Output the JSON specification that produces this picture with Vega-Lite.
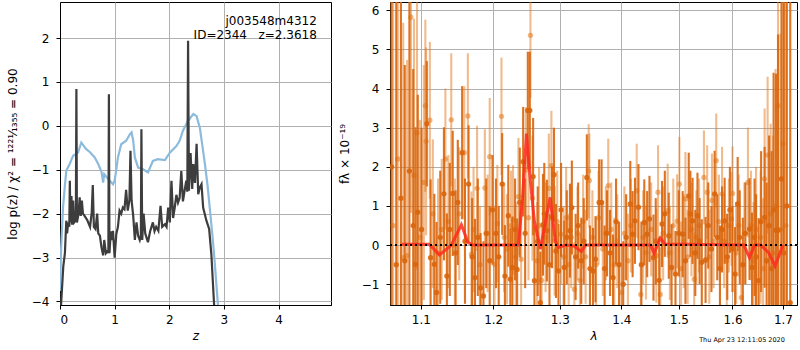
{
  "$schema": "https://vega.github.io/schema/vega-lite/v6.json",
  "padding": {"left": 5, "top": 1, "right": 0, "bottom": 0},
  "background": "white",
  "config": {
    "font": "DejaVu Sans",
    "view": {"stroke": "black", "strokeWidth": 1},
    "axis": {
      "grid": true, "gridColor": "#b0b0b0", "gridWidth": 1,
      "domainColor": "black", "tickColor": "black", "tickSize": 4,
      "labelFont": "DejaVu Sans", "labelFontSize": 12, "labelColor": "black", "labelPadding": 6,
      "titleFont": "DejaVu Sans", "titleFontSize": 12, "titleFontWeight": "normal", "titleColor": "black"
    }
  },
  "spacing": 5,
  "datasets": {
    "pz": [
      {"curve": "smooth", "z": 0.0, "logp": -3.76}, {"curve": "smooth", "z": 0.02, "logp": -2.8}, {"curve": "smooth", "z": 0.055, "logp": -1.87}, {"curve": "smooth", "z": 0.09, "logp": -1.35}, {"curve": "smooth", "z": 0.116, "logp": -1.02}, {"curve": "smooth", "z": 0.177, "logp": -0.87}, {"curve": "smooth", "z": 0.24, "logp": -0.68}, {"curve": "smooth", "z": 0.33, "logp": -0.61}, {"curve": "smooth", "z": 0.39, "logp": -0.38}, {"curve": "smooth", "z": 0.48, "logp": -0.53}, {"curve": "smooth", "z": 0.55, "logp": -0.6}, {"curve": "smooth", "z": 0.635, "logp": -0.72}, {"curve": "smooth", "z": 0.70, "logp": -0.87}, {"curve": "smooth", "z": 0.76, "logp": -1.05}, {"curve": "smooth", "z": 0.79, "logp": -1.29}, {"curve": "smooth", "z": 0.81, "logp": -1.1}, {"curve": "smooth", "z": 0.88, "logp": -1.21}, {"curve": "smooth", "z": 0.97, "logp": -1.33}, {"curve": "smooth", "z": 1.0, "logp": -1.25}, {"curve": "smooth", "z": 1.03, "logp": -1.0}, {"curve": "smooth", "z": 1.06, "logp": -0.72}, {"curve": "smooth", "z": 1.12, "logp": -0.42}, {"curve": "smooth", "z": 1.21, "logp": -0.34}, {"curve": "smooth", "z": 1.28, "logp": -0.19}, {"curve": "smooth", "z": 1.31, "logp": -0.15}, {"curve": "smooth", "z": 1.34, "logp": -0.34}, {"curve": "smooth", "z": 1.37, "logp": -0.72}, {"curve": "smooth", "z": 1.43, "logp": -0.95}, {"curve": "smooth", "z": 1.52, "logp": -0.99}, {"curve": "smooth", "z": 1.61, "logp": -1.06}, {"curve": "smooth", "z": 1.70, "logp": -0.8}, {"curve": "smooth", "z": 1.79, "logp": -0.76}, {"curve": "smooth", "z": 1.92, "logp": -0.78}, {"curve": "smooth", "z": 2.01, "logp": -0.61}, {"curve": "smooth", "z": 2.13, "logp": -0.46}, {"curve": "smooth", "z": 2.19, "logp": -0.34}, {"curve": "smooth", "z": 2.25, "logp": -0.11}, {"curve": "smooth", "z": 2.34, "logp": 0.11}, {"curve": "smooth", "z": 2.44, "logp": 0.27}, {"curve": "smooth", "z": 2.50, "logp": 0.22}, {"curve": "smooth", "z": 2.56, "logp": -0.05}, {"curve": "smooth", "z": 2.60, "logp": -0.4}, {"curve": "smooth", "z": 2.65, "logp": -0.85}, {"curve": "smooth", "z": 2.70, "logp": -1.35}, {"curve": "smooth", "z": 2.74, "logp": -1.86}, {"curve": "smooth", "z": 2.79, "logp": -2.5}, {"curve": "smooth", "z": 2.83, "logp": -3.08}, {"curve": "smooth", "z": 2.89, "logp": -4.06}, {"curve": "smooth", "z": 2.93, "logp": -4.8},
      {"curve": "fit", "z": 0.0, "logp": -4.5}, {"curve": "fit", "z": 0.02, "logp": -4.06}, {"curve": "fit", "z": 0.06, "logp": -3.2}, {"curve": "fit", "z": 0.09, "logp": -2.9}, {"curve": "fit", "z": 0.115, "logp": -2.16}, {"curve": "fit", "z": 0.13, "logp": -2.45}, {"curve": "fit", "z": 0.15, "logp": -2.2}, {"curve": "fit", "z": 0.17, "logp": -2.3}, {"curve": "fit", "z": 0.18, "logp": -1.25}, {"curve": "fit", "z": 0.19, "logp": -2.2}, {"curve": "fit", "z": 0.21, "logp": -1.6}, {"curve": "fit", "z": 0.22, "logp": -2.25}, {"curve": "fit", "z": 0.24, "logp": -1.7}, {"curve": "fit", "z": 0.26, "logp": -2.2}, {"curve": "fit", "z": 0.29, "logp": -2.15}, {"curve": "fit", "z": 0.30, "logp": 0.84}, {"curve": "fit", "z": 0.31, "logp": -2.2}, {"curve": "fit", "z": 0.34, "logp": -2.0}, {"curve": "fit", "z": 0.36, "logp": -1.63}, {"curve": "fit", "z": 0.38, "logp": -2.05}, {"curve": "fit", "z": 0.40, "logp": -1.7}, {"curve": "fit", "z": 0.42, "logp": -2.0}, {"curve": "fit", "z": 0.45, "logp": -2.05}, {"curve": "fit", "z": 0.50, "logp": -2.15}, {"curve": "fit", "z": 0.55, "logp": -2.3}, {"curve": "fit", "z": 0.58, "logp": -1.98}, {"curve": "fit", "z": 0.60, "logp": -1.35}, {"curve": "fit", "z": 0.62, "logp": -2.3}, {"curve": "fit", "z": 0.65, "logp": -2.35}, {"curve": "fit", "z": 0.68, "logp": -2.0}, {"curve": "fit", "z": 0.70, "logp": -2.45}, {"curve": "fit", "z": 0.73, "logp": -2.5}, {"curve": "fit", "z": 0.76, "logp": -2.77}, {"curve": "fit", "z": 0.79, "logp": -2.95}, {"curve": "fit", "z": 0.81, "logp": -2.6}, {"curve": "fit", "z": 0.84, "logp": -2.9}, {"curve": "fit", "z": 0.87, "logp": -2.85}, {"curve": "fit", "z": 0.885, "logp": -2.9}, {"curve": "fit", "z": 0.895, "logp": 0.72}, {"curve": "fit", "z": 0.905, "logp": -2.9}, {"curve": "fit", "z": 0.93, "logp": -2.4}, {"curve": "fit", "z": 0.95, "logp": -2.6}, {"curve": "fit", "z": 0.97, "logp": -2.39}, {"curve": "fit", "z": 1.0, "logp": -3.0}, {"curve": "fit", "z": 1.03, "logp": -2.47}, {"curve": "fit", "z": 1.06, "logp": -2.3}, {"curve": "fit", "z": 1.09, "logp": -1.93}, {"curve": "fit", "z": 1.12, "logp": -2.0}, {"curve": "fit", "z": 1.15, "logp": -1.86}, {"curve": "fit", "z": 1.18, "logp": -1.9}, {"curve": "fit", "z": 1.21, "logp": -1.46}, {"curve": "fit", "z": 1.24, "logp": -1.93}, {"curve": "fit", "z": 1.27, "logp": -1.7}, {"curve": "fit", "z": 1.29, "logp": -0.57}, {"curve": "fit", "z": 1.31, "logp": -1.7}, {"curve": "fit", "z": 1.34, "logp": -2.05}, {"curve": "fit", "z": 1.37, "logp": -2.6}, {"curve": "fit", "z": 1.40, "logp": -2.2}, {"curve": "fit", "z": 1.43, "logp": -2.5}, {"curve": "fit", "z": 1.46, "logp": -2.6}, {"curve": "fit", "z": 1.48, "logp": -2.5}, {"curve": "fit", "z": 1.49, "logp": -0.08}, {"curve": "fit", "z": 1.505, "logp": -2.6}, {"curve": "fit", "z": 1.53, "logp": -2.0}, {"curve": "fit", "z": 1.56, "logp": -2.45}, {"curve": "fit", "z": 1.61, "logp": -2.65}, {"curve": "fit", "z": 1.65, "logp": -2.4}, {"curve": "fit", "z": 1.70, "logp": -2.2}, {"curve": "fit", "z": 1.73, "logp": -2.4}, {"curve": "fit", "z": 1.76, "logp": -2.3}, {"curve": "fit", "z": 1.80, "logp": -2.39}, {"curve": "fit", "z": 1.84, "logp": -1.82}, {"curve": "fit", "z": 1.87, "logp": -2.3}, {"curve": "fit", "z": 1.92, "logp": -2.24}, {"curve": "fit", "z": 1.95, "logp": -2.3}, {"curve": "fit", "z": 1.98, "logp": -1.86}, {"curve": "fit", "z": 2.01, "logp": -2.2}, {"curve": "fit", "z": 2.04, "logp": -1.25}, {"curve": "fit", "z": 2.07, "logp": -2.1}, {"curve": "fit", "z": 2.10, "logp": -1.86}, {"curve": "fit", "z": 2.13, "logp": -1.57}, {"curve": "fit", "z": 2.16, "logp": -1.75}, {"curve": "fit", "z": 2.19, "logp": -1.64}, {"curve": "fit", "z": 2.22, "logp": -1.03}, {"curve": "fit", "z": 2.25, "logp": -1.72}, {"curve": "fit", "z": 2.28, "logp": -1.48}, {"curve": "fit", "z": 2.31, "logp": -1.25}, {"curve": "fit", "z": 2.33, "logp": -1.5}, {"curve": "fit", "z": 2.344, "logp": 1.94}, {"curve": "fit", "z": 2.36, "logp": -1.48}, {"curve": "fit", "z": 2.39, "logp": -0.62}, {"curve": "fit", "z": 2.42, "logp": -1.44}, {"curve": "fit", "z": 2.44, "logp": -0.87}, {"curve": "fit", "z": 2.47, "logp": -1.3}, {"curve": "fit", "z": 2.50, "logp": -0.41}, {"curve": "fit", "z": 2.53, "logp": -1.56}, {"curve": "fit", "z": 2.56, "logp": -1.4}, {"curve": "fit", "z": 2.59, "logp": -1.33}, {"curve": "fit", "z": 2.62, "logp": -1.86}, {"curve": "fit", "z": 2.68, "logp": -2.16}, {"curve": "fit", "z": 2.73, "logp": -2.35}, {"curve": "fit", "z": 2.77, "logp": -2.92}, {"curve": "fit", "z": 2.82, "logp": -4.06}, {"curve": "fit", "z": 2.86, "logp": -4.8}
    ],
    "ann": [
      {"z": 4.70, "logp": 2.39, "label": "j003548m4312"},
      {"z": 4.70, "logp": 2.06, "label": "ID=2344\u00a0\u00a0\u00a0z=2.3618"}
    ],
    "dark": [
      {"lam": 1.062, "f": 2.0, "e": 8}, {"lam": 1.068, "f": -0.5, "e": 8}, {"lam": 1.074, "f": 1.2, "e": 6}, {"lam": 1.079, "f": -0.4, "e": 5}, {"lam": 1.085, "f": 1.89, "e": 4.5}, {"lam": 1.090, "f": 0.5, "e": 4}, {"lam": 1.093, "f": -0.49, "e": 3.5}, {"lam": 1.096, "f": 0.84, "e": 3}, {"lam": 1.101, "f": 0.4, "e": 2.6}, {"lam": 1.108, "f": 3.1, "e": 1.6}, {"lam": 1.113, "f": -0.32, "e": 2.0}, {"lam": 1.118, "f": -0.49, "e": 1.8}, {"lam": 1.121, "f": -1.21, "e": 1.8}, {"lam": 1.126, "f": 0.2, "e": 1.7}, {"lam": 1.131, "f": 1.31, "e": 1.7}, {"lam": 1.135, "f": -0.79, "e": 1.6}, {"lam": 1.139, "f": 0.4, "e": 1.7}, {"lam": 1.143, "f": 1.32, "e": 1.6}, {"lam": 1.147, "f": -0.2, "e": 1.6}, {"lam": 1.150, "f": 1.09, "e": 1.6}, {"lam": 1.156, "f": 2.36, "e": 1.7}, {"lam": 1.160, "f": 0.1, "e": 1.6}, {"lam": 1.165, "f": 1.56, "e": 1.5}, {"lam": 1.170, "f": -0.3, "e": 1.5}, {"lam": 1.174, "f": -0.83, "e": 1.5}, {"lam": 1.178, "f": 0.2, "e": 1.5}, {"lam": 1.182, "f": -1.09, "e": 1.4}, {"lam": 1.186, "f": -1.3, "e": 1.4}, {"lam": 1.190, "f": 0.3, "e": 1.4}, {"lam": 1.195, "f": -0.4, "e": 1.4}, {"lam": 1.199, "f": 0.9, "e": 1.4}, {"lam": 1.204, "f": 0.3, "e": 1.4}, {"lam": 1.208, "f": -0.3, "e": 1.3}, {"lam": 1.213, "f": 1.56, "e": 1.3}, {"lam": 1.217, "f": -0.79, "e": 1.3}, {"lam": 1.222, "f": 0.75, "e": 1.3}, {"lam": 1.225, "f": -0.87, "e": 1.3}, {"lam": 1.228, "f": -0.57, "e": 1.3}, {"lam": 1.232, "f": 0.4, "e": 1.3}, {"lam": 1.235, "f": -0.62, "e": 1.3}, {"lam": 1.239, "f": 1.09, "e": 1.4}, {"lam": 1.244, "f": 2.13, "e": 1.4}, {"lam": 1.247, "f": 0.3, "e": 1.4}, {"lam": 1.251, "f": 3.44, "e": 1.5}, {"lam": 1.254, "f": 3.44, "e": 1.5}, {"lam": 1.259, "f": 1.75, "e": 1.5}, {"lam": 1.261, "f": -0.91, "e": 1.4}, {"lam": 1.266, "f": 0.1, "e": 1.4}, {"lam": 1.270, "f": -1.47, "e": 1.3}, {"lam": 1.274, "f": 0.52, "e": 1.3}, {"lam": 1.276, "f": 0.8, "e": 1.3}, {"lam": 1.280, "f": 0.37, "e": 1.3}, {"lam": 1.284, "f": -0.5, "e": 1.3}, {"lam": 1.288, "f": 0.71, "e": 1.3}, {"lam": 1.291, "f": 1.8, "e": 1.2}, {"lam": 1.294, "f": -0.15, "e": 1.2}, {"lam": 1.298, "f": -0.66, "e": 1.2}, {"lam": 1.302, "f": 0.9, "e": 1.2}, {"lam": 1.307, "f": -0.57, "e": 1.2}, {"lam": 1.311, "f": 0.2, "e": 1.2}, {"lam": 1.316, "f": 0.37, "e": 1.2}, {"lam": 1.319, "f": 0.96, "e": 1.2}, {"lam": 1.325, "f": -0.3, "e": 1.1}, {"lam": 1.329, "f": 0.5, "e": 1.1}, {"lam": 1.334, "f": -0.4, "e": 1.1}, {"lam": 1.338, "f": 0.1, "e": 1.1}, {"lam": 1.343, "f": 1.73, "e": 1.1}, {"lam": 1.348, "f": -0.6, "e": 1.1}, {"lam": 1.353, "f": -0.66, "e": 1.1}, {"lam": 1.357, "f": -0.36, "e": 1.1}, {"lam": 1.363, "f": 1.09, "e": 1.1}, {"lam": 1.367, "f": 1.09, "e": 1.1}, {"lam": 1.372, "f": -0.6, "e": 1.1}, {"lam": 1.376, "f": 0.3, "e": 1.1}, {"lam": 1.381, "f": -0.2, "e": 1.1}, {"lam": 1.386, "f": -0.83, "e": 1.1}, {"lam": 1.391, "f": 0.6, "e": 1.1}, {"lam": 1.396, "f": -0.5, "e": 1.1}, {"lam": 1.403, "f": -1.0, "e": 1.1}, {"lam": 1.408, "f": 0.2, "e": 1.1}, {"lam": 1.415, "f": 1.05, "e": 1.1}, {"lam": 1.419, "f": 0.28, "e": 1.1}, {"lam": 1.423, "f": 0.62, "e": 1.1}, {"lam": 1.429, "f": 0.97, "e": 1.1}, {"lam": 1.434, "f": -0.5, "e": 1.1}, {"lam": 1.439, "f": 0.58, "e": 1.1}, {"lam": 1.444, "f": 0.28, "e": 1.1}, {"lam": 1.448, "f": 0.67, "e": 1.1}, {"lam": 1.455, "f": -0.32, "e": 1.1}, {"lam": 1.459, "f": 0.1, "e": 1.1}, {"lam": 1.465, "f": -0.9, "e": 1.1}, {"lam": 1.470, "f": 0.54, "e": 1.1}, {"lam": 1.475, "f": 0.8, "e": 1.1}, {"lam": 1.482, "f": 0.24, "e": 1.1}, {"lam": 1.487, "f": -0.57, "e": 1.1}, {"lam": 1.494, "f": -0.74, "e": 1.1}, {"lam": 1.500, "f": 0.3, "e": 1.1}, {"lam": 1.507, "f": 0.28, "e": 1.1}, {"lam": 1.512, "f": -0.4, "e": 1.1}, {"lam": 1.518, "f": 1.26, "e": 1.1}, {"lam": 1.521, "f": 0.8, "e": 1.1}, {"lam": 1.525, "f": 0.62, "e": 1.1}, {"lam": 1.530, "f": -0.2, "e": 1.1}, {"lam": 1.534, "f": 0.75, "e": 1.1}, {"lam": 1.538, "f": 0.1, "e": 1.1}, {"lam": 1.542, "f": -0.44, "e": 1.1}, {"lam": 1.549, "f": -0.38, "e": 1.1}, {"lam": 1.554, "f": 0.5, "e": 1.1}, {"lam": 1.560, "f": -0.1, "e": 1.1}, {"lam": 1.566, "f": 1.31, "e": 1.1}, {"lam": 1.571, "f": 0.2, "e": 1.1}, {"lam": 1.576, "f": -0.6, "e": 1.1}, {"lam": 1.580, "f": 0.4, "e": 1.1}, {"lam": 1.585, "f": 0.62, "e": 1.1}, {"lam": 1.590, "f": -0.3, "e": 1.1}, {"lam": 1.595, "f": 0.9, "e": 1.1}, {"lam": 1.600, "f": -0.1, "e": 1.1}, {"lam": 1.605, "f": -0.74, "e": 1.2}, {"lam": 1.610, "f": 1.05, "e": 1.2}, {"lam": 1.614, "f": 0.2, "e": 1.2}, {"lam": 1.620, "f": -0.5, "e": 1.2}, {"lam": 1.625, "f": 0.3, "e": 1.3}, {"lam": 1.633, "f": 0.41, "e": 1.3}, {"lam": 1.638, "f": -0.57, "e": 1.4}, {"lam": 1.643, "f": 0.2, "e": 1.5}, {"lam": 1.646, "f": -0.3, "e": 1.6}, {"lam": 1.651, "f": -0.91, "e": 1.6}, {"lam": 1.656, "f": 0.6, "e": 1.8}, {"lam": 1.663, "f": 0.71, "e": 1.8}, {"lam": 1.667, "f": -0.4, "e": 2.0}, {"lam": 1.672, "f": 0.5, "e": 2.3}, {"lam": 1.677, "f": -0.6, "e": 3}, {"lam": 1.681, "f": 0.9, "e": 3.5}, {"lam": 1.686, "f": 0.38, "e": 4}, {"lam": 1.690, "f": 0.38, "e": 5}, {"lam": 1.697, "f": 1.69, "e": 6}, {"lam": 1.702, "f": -0.2, "e": 8}, {"lam": 1.708, "f": 1.0, "e": 8}, {"lam": 1.715, "f": -1.47, "e": 8}
    ],
    "light": [
      {"lam": 1.064, "f": 0.5, "e": 8}, {"lam": 1.070, "f": 2.2, "e": 7}, {"lam": 1.077, "f": -0.32, "e": 6}, {"lam": 1.082, "f": -0.27, "e": 5}, {"lam": 1.087, "f": 5.82, "e": 5}, {"lam": 1.091, "f": 1.78, "e": 4}, {"lam": 1.095, "f": 2.87, "e": 3.5}, {"lam": 1.099, "f": 0.2, "e": 3}, {"lam": 1.104, "f": 1.6, "e": 3}, {"lam": 1.106, "f": 3.56, "e": 2.2}, {"lam": 1.107, "f": 2.65, "e": 2.4}, {"lam": 1.112, "f": 3.19, "e": 2.0}, {"lam": 1.116, "f": 0.8, "e": 1.9}, {"lam": 1.123, "f": -0.2, "e": 1.9}, {"lam": 1.128, "f": 0.4, "e": 1.8}, {"lam": 1.133, "f": 2.2, "e": 1.8}, {"lam": 1.137, "f": 0.6, "e": 1.7}, {"lam": 1.141, "f": 3.2, "e": 1.7}, {"lam": 1.146, "f": 0.0, "e": 1.7}, {"lam": 1.152, "f": 0.8, "e": 1.7}, {"lam": 1.159, "f": 2.36, "e": 1.7}, {"lam": 1.164, "f": 3.3, "e": 1.6}, {"lam": 1.169, "f": -0.23, "e": 1.6}, {"lam": 1.172, "f": 0.4, "e": 1.6}, {"lam": 1.177, "f": 1.45, "e": 1.6}, {"lam": 1.181, "f": -0.5, "e": 1.5}, {"lam": 1.188, "f": 1.46, "e": 1.5}, {"lam": 1.192, "f": 0.3, "e": 1.5}, {"lam": 1.195, "f": 2.26, "e": 1.5}, {"lam": 1.202, "f": -0.49, "e": 1.5}, {"lam": 1.206, "f": 0.55, "e": 1.5}, {"lam": 1.212, "f": 3.29, "e": 1.5}, {"lam": 1.216, "f": 0.2, "e": 1.4}, {"lam": 1.220, "f": -0.1, "e": 1.4}, {"lam": 1.226, "f": 0.5, "e": 1.4}, {"lam": 1.229, "f": 0.64, "e": 1.4}, {"lam": 1.233, "f": -0.3, "e": 1.4}, {"lam": 1.237, "f": 1.24, "e": 1.5}, {"lam": 1.241, "f": -0.36, "e": 1.5}, {"lam": 1.248, "f": 1.92, "e": 1.6}, {"lam": 1.252, "f": 0.7, "e": 1.6}, {"lam": 1.255, "f": 5.36, "e": 1.6}, {"lam": 1.258, "f": 1.2, "e": 1.6}, {"lam": 1.265, "f": -0.4, "e": 1.5}, {"lam": 1.268, "f": 0.5, "e": 1.5}, {"lam": 1.272, "f": -0.9, "e": 1.4}, {"lam": 1.278, "f": 0.2, "e": 1.4}, {"lam": 1.283, "f": 1.45, "e": 1.4}, {"lam": 1.287, "f": 2.03, "e": 1.4}, {"lam": 1.292, "f": 0.11, "e": 1.4}, {"lam": 1.296, "f": 0.6, "e": 1.3}, {"lam": 1.302, "f": 0.28, "e": 1.3}, {"lam": 1.306, "f": -0.3, "e": 1.3}, {"lam": 1.310, "f": 0.7, "e": 1.3}, {"lam": 1.314, "f": -0.5, "e": 1.3}, {"lam": 1.318, "f": 0.2, "e": 1.3}, {"lam": 1.323, "f": -1.13, "e": 1.2}, {"lam": 1.328, "f": 0.3, "e": 1.2}, {"lam": 1.332, "f": -0.9, "e": 1.2}, {"lam": 1.337, "f": 0.6, "e": 1.2}, {"lam": 1.341, "f": -0.3, "e": 1.2}, {"lam": 1.346, "f": 1.89, "e": 1.2}, {"lam": 1.347, "f": 1.65, "e": 1.2}, {"lam": 1.352, "f": 0.2, "e": 1.2}, {"lam": 1.358, "f": -0.5, "e": 1.2}, {"lam": 1.362, "f": 0.7, "e": 1.2}, {"lam": 1.369, "f": -0.1, "e": 1.2}, {"lam": 1.374, "f": 0.3, "e": 1.2}, {"lam": 1.378, "f": 1.52, "e": 1.2}, {"lam": 1.383, "f": 0.4, "e": 1.2}, {"lam": 1.388, "f": -0.5, "e": 1.2}, {"lam": 1.393, "f": 0.1, "e": 1.2}, {"lam": 1.400, "f": -1.21, "e": 1.2}, {"lam": 1.405, "f": 0.3, "e": 1.2}, {"lam": 1.411, "f": -0.4, "e": 1.2}, {"lam": 1.416, "f": 0.5, "e": 1.2}, {"lam": 1.426, "f": 1.39, "e": 1.2}, {"lam": 1.433, "f": -1.26, "e": 1.2}, {"lam": 1.437, "f": 0.2, "e": 1.2}, {"lam": 1.442, "f": -0.19, "e": 1.2}, {"lam": 1.451, "f": 0.4, "e": 1.2}, {"lam": 1.460, "f": -0.27, "e": 1.2}, {"lam": 1.463, "f": 1.35, "e": 1.2}, {"lam": 1.467, "f": -1.26, "e": 1.2}, {"lam": 1.472, "f": 0.3, "e": 1.2}, {"lam": 1.480, "f": 0.88, "e": 1.2}, {"lam": 1.484, "f": -0.2, "e": 1.2}, {"lam": 1.490, "f": 0.5, "e": 1.2}, {"lam": 1.497, "f": 0.61, "e": 1.2}, {"lam": 1.501, "f": 1.56, "e": 1.2}, {"lam": 1.504, "f": -0.6, "e": 1.2}, {"lam": 1.509, "f": 0.1, "e": 1.2}, {"lam": 1.512, "f": 1.18, "e": 1.2}, {"lam": 1.516, "f": -0.3, "e": 1.2}, {"lam": 1.523, "f": 0.4, "e": 1.2}, {"lam": 1.528, "f": -0.87, "e": 1.2}, {"lam": 1.532, "f": 0.2, "e": 1.2}, {"lam": 1.537, "f": 0.5, "e": 1.2}, {"lam": 1.546, "f": 1.73, "e": 1.2}, {"lam": 1.552, "f": 1.35, "e": 1.2}, {"lam": 1.556, "f": -0.3, "e": 1.2}, {"lam": 1.561, "f": 1.14, "e": 1.2}, {"lam": 1.564, "f": 0.1, "e": 1.2}, {"lam": 1.569, "f": 2.16, "e": 1.2}, {"lam": 1.574, "f": 0.6, "e": 1.2}, {"lam": 1.580, "f": 1.31, "e": 1.2}, {"lam": 1.584, "f": 0.1, "e": 1.2}, {"lam": 1.589, "f": -0.4, "e": 1.2}, {"lam": 1.593, "f": 0.5, "e": 1.2}, {"lam": 1.598, "f": 0.67, "e": 1.2}, {"lam": 1.600, "f": 1.32, "e": 1.2}, {"lam": 1.607, "f": -0.2, "e": 1.3}, {"lam": 1.612, "f": 0.5, "e": 1.3}, {"lam": 1.617, "f": -1.34, "e": 1.3}, {"lam": 1.623, "f": 0.3, "e": 1.3}, {"lam": 1.630, "f": 1.6, "e": 1.4}, {"lam": 1.636, "f": 0.5, "e": 1.4}, {"lam": 1.641, "f": -0.4, "e": 1.5}, {"lam": 1.646, "f": 0.4, "e": 1.6}, {"lam": 1.655, "f": 0.2, "e": 1.7}, {"lam": 1.660, "f": -0.6, "e": 1.8}, {"lam": 1.663, "f": 1.69, "e": 1.8}, {"lam": 1.669, "f": 2.3, "e": 2.0}, {"lam": 1.675, "f": 0.8, "e": 2.3}, {"lam": 1.680, "f": -0.2, "e": 3}, {"lam": 1.685, "f": 1.0, "e": 3.5}, {"lam": 1.690, "f": 3.56, "e": 3.5}, {"lam": 1.695, "f": 0.4, "e": 5}, {"lam": 1.700, "f": 2.59, "e": 6}, {"lam": 1.706, "f": 0.5, "e": 8}
    ],
    "model": [
      {"lam": 1.075, "f": 0.02}, {"lam": 1.111, "f": 0.02}, {"lam": 1.125, "f": -0.25}, {"lam": 1.141, "f": 0.0}, {"lam": 1.155, "f": 0.52}, {"lam": 1.164, "f": 0.07}, {"lam": 1.171, "f": 0.0}, {"lam": 1.237, "f": 0.0}, {"lam": 1.243, "f": 1.2}, {"lam": 1.249, "f": 2.85}, {"lam": 1.255, "f": 1.6}, {"lam": 1.261, "f": 0.6}, {"lam": 1.27, "f": -0.1}, {"lam": 1.285, "f": 1.22}, {"lam": 1.293, "f": 0.11}, {"lam": 1.298, "f": -0.06}, {"lam": 1.31, "f": 0.0}, {"lam": 1.322, "f": -0.02}, {"lam": 1.334, "f": -0.16}, {"lam": 1.341, "f": 0.0}, {"lam": 1.45, "f": 0.0}, {"lam": 1.456, "f": -0.21}, {"lam": 1.467, "f": 0.18}, {"lam": 1.475, "f": 0.03}, {"lam": 1.622, "f": 0.0}, {"lam": 1.633, "f": -0.32}, {"lam": 1.643, "f": 0.0}, {"lam": 1.655, "f": 0.0}, {"lam": 1.671, "f": -0.19}, {"lam": 1.684, "f": -0.53}, {"lam": 1.70, "f": 0.0}
    ],
    "stamp": [
      {"lam": 1.704, "f": -2.43, "label": "Thu Apr 23 12:11:05 2020"}
    ]
  },
  "hconcat": [
    {
      "width": 271,
      "height": 303,
      "layer": [
        {
          "data": {"name": "pz"},
          "mark": {"type": "line", "strokeWidth": 2.2, "clip": true},
          "encoding": {
            "x": {"field": "z", "type": "quantitative", "scale": {"domain": [0, 4.96], "nice": false, "zero": false},
                  "axis": {"values": [0, 1, 2, 3, 4], "title": "z", "titleFontStyle": "italic", "titlePadding": 5, "labelPadding": 5}},
            "y": {"field": "logp", "type": "quantitative", "scale": {"domain": [-4.08, 2.82], "nice": false, "zero": false},
                  "axis": {"values": [-4, -3, -2, -1, 0, 1, 2], "title": "log p(z) / χ² = ¹²²¹⁄₁₃₅₅ = 0.90", "titlePadding": 12, "labelPadding": 7}},
            "color": {"field": "curve", "type": "nominal", "scale": {"domain": ["smooth", "fit"], "range": ["#8dbbdc", "#3d3d3d"]}, "legend": null},
            "order": {"field": "z", "type": "quantitative"}
          }
        },
        {
          "data": {"name": "ann"},
          "mark": {"type": "text", "align": "right", "baseline": "middle", "fontSize": 12, "color": "black"},
          "encoding": {
            "x": {"field": "z", "type": "quantitative"},
            "y": {"field": "logp", "type": "quantitative"},
            "text": {"field": "label"}
          }
        }
      ]
    },
    {
      "width": 407,
      "height": 303,
      "encoding": {
        "x": {"field": "lam", "type": "quantitative", "scale": {"type": "log", "domain": [1.06, 1.729], "nice": false},
              "axis": {"values": [1.1, 1.2, 1.3, 1.4, 1.5, 1.6, 1.7], "format": ".1f", "title": "λ", "titleFontStyle": "italic", "titlePadding": 5, "labelPadding": 5}},
        "y": {"field": "f", "type": "quantitative", "scale": {"domain": [-1.53, 6.21], "nice": false, "zero": false},
              "axis": {"values": [-1, 0, 1, 2, 3, 4, 5, 6], "title": "fλ × 10⁻¹⁹", "titlePadding": 10, "labelPadding": 7}}
      },
      "layer": [
        {
          "data": {"name": "light"},
          "mark": {"type": "errorbar", "thickness": 2.1, "color": "#e2781c", "opacity": 0.5, "clip": true},
          "encoding": {"yError": {"field": "e"}}
        },
        {
          "data": {"name": "light"},
          "mark": {"type": "circle", "size": 28, "color": "#e2781c", "opacity": 0.55, "clip": true}
        },
        {
          "data": {"name": "dark"},
          "mark": {"type": "errorbar", "thickness": 2.1, "color": "#d9650c", "opacity": 0.9, "clip": true},
          "encoding": {"yError": {"field": "e"}}
        },
        {
          "data": {"name": "dark"},
          "mark": {"type": "circle", "size": 28, "color": "#d9650c", "opacity": 0.9, "clip": true}
        },
        {
          "data": {"name": "model"},
          "mark": {"type": "line", "color": "#ff2a1f", "strokeWidth": 3, "opacity": 0.85, "clip": true}
        },
        {
          "data": {"values": [{"f": 0}]},
          "mark": {"type": "rule", "color": "black", "strokeWidth": 2, "strokeDash": [2, 3]},
          "encoding": {"y": {"field": "f", "type": "quantitative"}, "x": null}
        },
        {
          "data": {"name": "stamp"},
          "mark": {"type": "text", "align": "right", "baseline": "middle", "fontSize": 6.5, "color": "black", "clip": false},
          "encoding": {"text": {"field": "label"}}
        }
      ]
    }
  ]
}
